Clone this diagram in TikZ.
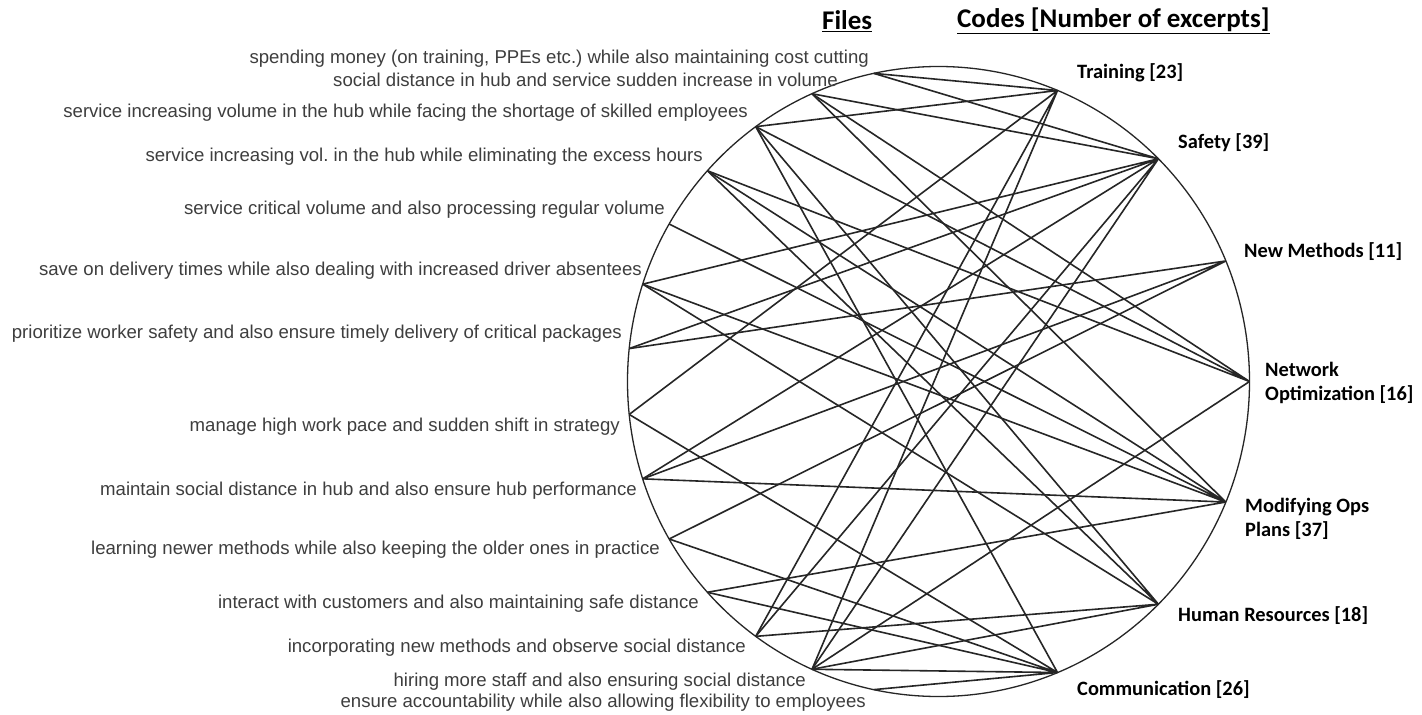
\documentclass[tikz,border=0pt]{standalone}
\usepackage{fontspec}
\setmainfont{Liberation Sans}
\newfontfamily\codefont{Carlito}
\usepackage{xcolor}
\usepackage{tikz}
\usetikzlibrary{positioning, calc}
\frenchspacing

\definecolor{filegray}{HTML}{3E3E3E}
\definecolor{linkgray}{HTML}{262626}

\tikzset{
    file/.style={anchor=east, inner sep=0pt, text=filegray, font=\fontsize{18.6}{20}\selectfont},
    code/.style={anchor=west, inner sep=0pt, align=left, font=\codefont\bfseries\fontsize{20.4}{24.5}\selectfont},
    head/.style={anchor=west, inner sep=0pt, font=\codefont\bfseries\fontsize{27}{30}\selectfont},
    link/.style={draw=linkgray, line width=1.6pt},
}

\begin{document}
\begin{tikzpicture}[x=1pt, y=-1pt]
    \useasboundingbox [fill=white] (0,0) rectangle (1422,715);

    % Wheel
    \coordinate (ctr) at (938.5,381.5);
    \draw [draw=linkgray, line width=1.3pt] (ctr) ellipse [x radius=311pt, y radius=315pt];

    % Headers
    \node [head] (hfiles) at (822,21) {\underline{Files}};
    \node [head] (hcodes) at (957,21) {\underline{Codes [Number of excerpts]}};

    % Files
    \coordinate (f1) at ($(ctr)+(102:311pt and 315pt)$);
    \coordinate (f2) at ($(ctr)+(114:311pt and 315pt)$);
    \coordinate (f3) at ($(ctr)+(126:311pt and 315pt)$);
    \coordinate (f4) at ($(ctr)+(138:311pt and 315pt)$);
    \coordinate (f5) at ($(ctr)+(150:311pt and 315pt)$);
    \coordinate (f6) at ($(ctr)+(162:311pt and 315pt)$);
    \coordinate (f7) at ($(ctr)+(174:311pt and 315pt)$);
    \coordinate (f8) at ($(ctr)+(186:311pt and 315pt)$);
    \coordinate (f9) at ($(ctr)+(198:311pt and 315pt)$);
    \coordinate (f10) at ($(ctr)+(210:311pt and 315pt)$);
    \coordinate (f11) at ($(ctr)+(222:311pt and 315pt)$);
    \coordinate (f12) at ($(ctr)+(234:311pt and 315pt)$);
    \coordinate (f13) at ($(ctr)+(246:311pt and 315pt)$);
    \coordinate (f14) at ($(ctr)+(258:311pt and 315pt)$);

    \node [file] (l1) at (869,59) {spending money (on training, PPEs etc.) while also maintaining cost cutting};
    \node [file] (l2) at (838,80) {social distance in hub and service sudden increase in volume};
    \node [file] (l3) at (748,113) {service increasing volume in the hub while facing the shortage of skilled employees};
    \node [file] (l4) at (703,157) {service increasing vol. in the hub while eliminating the excess hours};
    \node [file] (l5) at (665,210) {service critical volume and also processing regular volume};
    \node [file] (l6) at (642,271) {save on delivery times while also dealing with increased driver absentees};
    \node [file] (l7) at (622,334) {prioritize worker safety and also ensure timely delivery of critical packages};
    \node [file] (l8) at (620,427) {manage high work pace and sudden shift in strategy};
    \node [file] (l9) at (637,491) {maintain social distance in hub and also ensure hub performance};
    \node [file] (l10) at (660,550) {learning newer methods while also keeping the older ones in practice};
    \node [file] (l11) at (699,604) {interact with customers and also maintaining safe distance};
    \node [file] (l12) at (746,648) {incorporating new methods and observe social distance};
    \node [file] (l13) at (806,682) {hiring more staff and also ensuring social distance};
    \node [file] (l14) at (866,703) {ensure accountability while also allowing flexibility to employees};

    % Codes
    \coordinate (train) at ($(ctr)+(67.5:311pt and 315pt)$);
    \coordinate (safety) at ($(ctr)+(45:311pt and 315pt)$);
    \coordinate (newmeth) at ($(ctr)+(22.5:311pt and 315pt)$);
    \coordinate (netopt) at ($(ctr)+(0:311pt and 315pt)$);
    \coordinate (modops) at ($(ctr)+(-22.5:311pt and 315pt)$);
    \coordinate (humres) at ($(ctr)+(-45:311pt and 315pt)$);
    \coordinate (comm) at ($(ctr)+(-67.5:311pt and 315pt)$);

    \node [code] (ltrain) at (1077,73) {Training [23]};
    \node [code] (lsafety) at (1178,143) {Safety [39]};
    \node [code] (lnewmeth) at (1244,252) {New Methods [11]};
    \node [code] (lnetopt) at (1265,383) {Network\\Optimization [16]};
    \node [code] (lmodops) at (1245,519) {Modifying Ops\\Plans [37]};
    \node [code] (lhumres) at (1178,616) {Human Resources [18]};
    \node [code] (lcomm) at (1077,690) {Communication [26]};

    % Links
    \draw [link] (train) -- (f1) (train) -- (f3) (train) -- (f8) (train) -- (f12) (train) -- (f13);
    \draw [link] (safety) -- (f1) (safety) -- (f2) (safety) -- (f6) (safety) -- (f7) (safety) -- (f9) (safety) -- (f12) (safety) -- (f13);
    \draw [link] (newmeth) -- (f7) (newmeth) -- (f9) (newmeth) -- (f10);
    \draw [link] (netopt) -- (f2) (netopt) -- (f3) (netopt) -- (f4) (netopt) -- (f13);
    \draw [link] (modops) -- (f2) (modops) -- (f4) (modops) -- (f5) (modops) -- (f6) (modops) -- (f9) (modops) -- (f11);
    \draw [link] (humres) -- (f3) (humres) -- (f4) (humres) -- (f6) (humres) -- (f12) (humres) -- (f13);
    \draw [link] (comm) -- (f3) (comm) -- (f8) (comm) -- (f10) (comm) -- (f11) (comm) -- (f13) (comm) -- (f14);
\end{tikzpicture}
\end{document}
